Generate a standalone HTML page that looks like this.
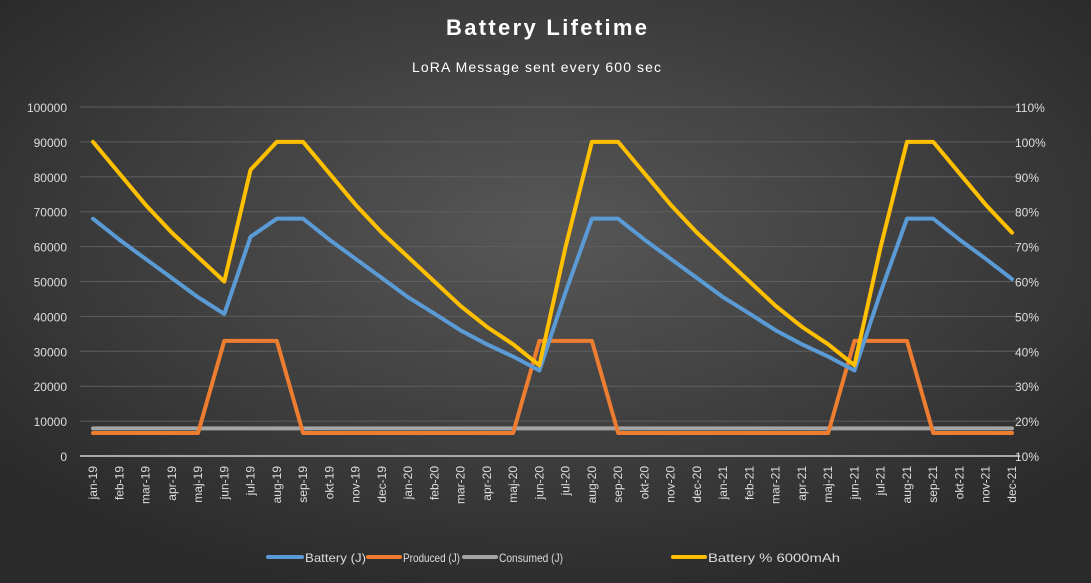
<!DOCTYPE html>
<html><head><meta charset="utf-8"><style>
body{margin:0;width:1091px;height:583px;overflow:hidden;background:#3a3a3a}
svg{display:block;font-family:"Liberation Sans",sans-serif}
</style></head><body>
<svg id="c" width="1091" height="583">
<defs><radialGradient id="bg" cx="50%" cy="40%" r="65%"><stop offset="0" stop-color="#575757"/><stop offset="1" stop-color="#2a2a2a"/></radialGradient></defs>
<rect width="1091" height="583" fill="url(#bg)"/>
<text x="446" y="35" textLength="201" lengthAdjust="spacing" fill="#fff" font-size="22" font-weight="bold">Battery Lifetime</text>
<text x="412" y="72" textLength="249" lengthAdjust="spacing" fill="#fff" font-size="14">LoRA Message sent every 600 sec</text>
<g id="grid"></g><g id="series"></g><g id="axes"></g>
<g font-size="12" fill="#ddd">
<line x1="268" y1="557" x2="302" y2="557" stroke="#5b9bd5" stroke-width="4" stroke-linecap="round"/><text x="305" y="562" textLength="61" lengthAdjust="spacingAndGlyphs">Battery (J)</text>
<line x1="368" y1="557" x2="400" y2="557" stroke="#ed7d31" stroke-width="4" stroke-linecap="round"/><text x="403" y="562" textLength="57" lengthAdjust="spacingAndGlyphs">Produced (J)</text>
<line x1="464" y1="557" x2="496" y2="557" stroke="#a5a5a5" stroke-width="4" stroke-linecap="round"/><text x="499" y="562" textLength="64" lengthAdjust="spacingAndGlyphs">Consumed  (J)</text>
<line x1="673" y1="557" x2="705" y2="557" stroke="#ffc000" stroke-width="4" stroke-linecap="round"/><text x="708" y="562" textLength="132" lengthAdjust="spacingAndGlyphs">Battery % 6000mAh</text>
</g>
</svg>
<script>
const categories=["jan-19","feb-19","mar-19","apr-19","maj-19","jun-19","jul-19","aug-19","sep-19","okt-19","nov-19","dec-19","jan-20","feb-20","mar-20","apr-20","maj-20","jun-20","jul-20","aug-20","sep-20","okt-20","nov-20","dec-20","jan-21","feb-21","mar-21","apr-21","maj-21","jun-21","jul-21","aug-21","sep-21","okt-21","nov-21","dec-21"];
const battery=[68000,62000,56500,51000,45500,40700,62800,68000,68000,62000,56500,51000,45500,40800,36000,32000,28500,24500,47000,68000,68000,62000,56500,51000,45500,40800,36000,32000,28500,24500,47000,68000,68000,62000,56500,50700];
const produced=[6600,6600,6600,6600,6600,33000,33000,33000,6600,6600,6600,6600,6600,6600,6600,6600,6600,33000,33000,33000,6600,6600,6600,6600,6600,6600,6600,6600,6600,33000,33000,33000,6600,6600,6600,6600];
const consumed=[7900,7900,7900,7900,7900,7900,7900,7900,7900,7900,7900,7900,7900,7900,7900,7900,7900,7900,7900,7900,7900,7900,7900,7900,7900,7900,7900,7900,7900,7900,7900,7900,7900,7900,7900,7900];
const batteryPct=[100,91,82,74,67,60,92,100,100,91,82,74,67,60,53,47,42,36,70,100,100,91,82,74,67,60,53,47,42,36,70,100,100,91,82,74];
const leftTicks=[0,10000,20000,30000,40000,50000,60000,70000,80000,90000,100000];
const rightTicks=["10%","20%","30%","40%","50%","60%","70%","80%","90%","100%","110%"];
const NS="http://www.w3.org/2000/svg";
const X0=93,X1=1012,Y0=456,Y1=107;
const xs=i=>X0+i*(X1-X0)/(categories.length-1);
const yL=v=>Y0-v/100000*(Y0-Y1);
const yR=p=>Y0-(p-10)/100*(Y0-Y1);
function mk(tag,attrs,parent){const e=document.createElementNS(NS,tag);for(const k in attrs)e.setAttribute(k,attrs[k]);parent.appendChild(e);return e;}
const grid=document.getElementById('grid'),axes=document.getElementById('axes'),ser=document.getElementById('series');
leftTicks.forEach((v,i)=>{
 const y=yL(v);
 const l=mk('line',{x1:80,x2:1020,y1:y,y2:y,stroke:i==0?'#a8a8a8':'#5e5e5e','stroke-width':i==0?2:1},grid);
 
 
 const t=mk('text',{x:67,y:y+5,'text-anchor':'end',fill:'#ddd','font-size':12},axes);
 t.textContent=v;
 
 
 const r=mk('text',{x:1015,y:yR(10+i*10)+5,fill:'#ddd','font-size':12},axes);
 r.textContent=rightTicks[i];
 
 
});
categories.forEach((c,i)=>{
 const x=xs(i);
 const t=mk('text',{x:0,y:0,'text-anchor':'end',fill:'#ddd','font-size':12,transform:`translate(${x+4},466) rotate(-90)`},axes);
 t.textContent=c;
 
 
});
function line(arr,fy,color,name){
 const p=mk('polyline',{points:arr.map((v,i)=>xs(i)+','+fy(v)).join(' '),fill:'none',stroke:color,'stroke-width':4,'stroke-linejoin':'round','stroke-linecap':'round'},ser);
 
 
}
line(consumed,yL,'#a5a5a5','consumed-line');
line(produced,yL,'#ed7d31','produced-line');
line(battery,yL,'#5b9bd5','battery-line');
line(batteryPct,yR,'#ffc000','battery-percent-line');
</script>
</body></html>
